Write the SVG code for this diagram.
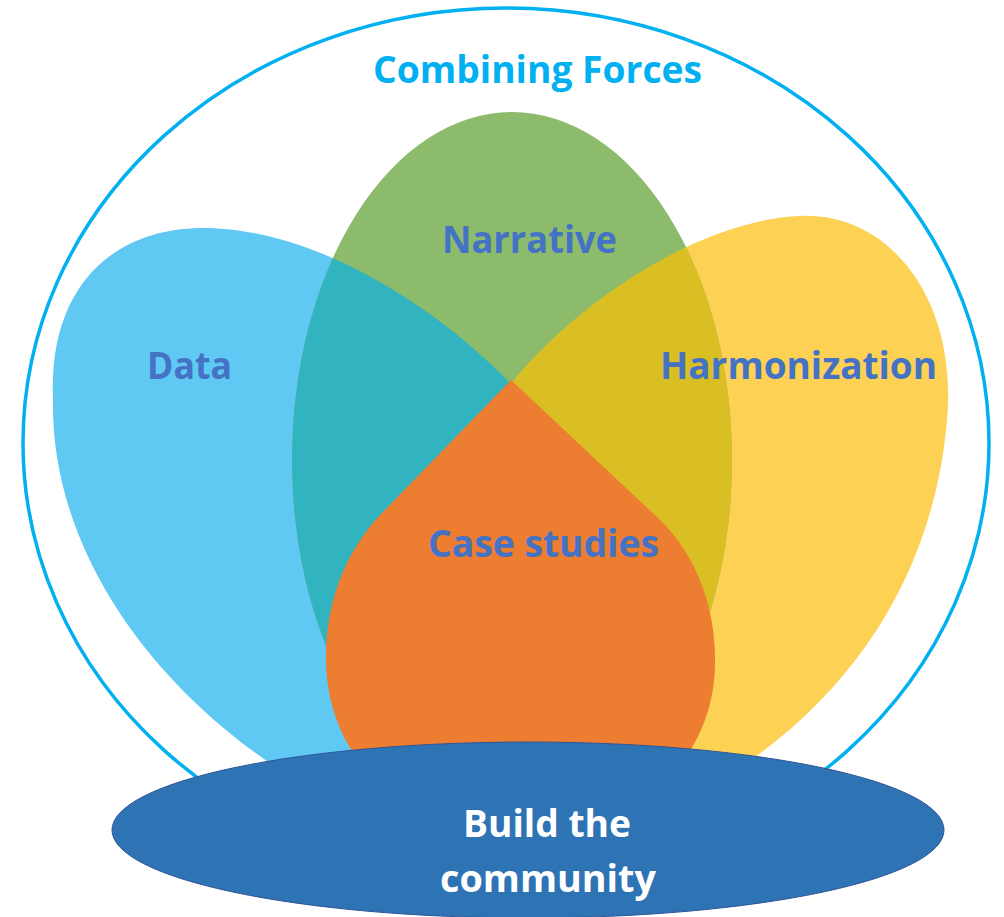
<svg xmlns="http://www.w3.org/2000/svg" width="1004" height="917" viewBox="0 0 1004 917">
<style>
.lbl{font-family:"Open Sans","Noto Sans","Liberation Sans",sans-serif;font-weight:700;font-size:37px;text-anchor:middle;fill:#4472C4}
.title{fill:#00B0F0}
.white{fill:#FFFFFF}
</style>
<defs>
<path id="dataShape" d="M400,830 C230,770 50,600 53,400 C48,280 120,225 210,228 C330,232 450,320 512,385 C530,420 480,700 400,830 Z"/>
<path id="harmShape" d="M620,830 C800,760 930,620 947,420 C958,300 890,212 800,216 C700,220 580,300 512,382 C500,420 540,700 620,830 Z"/>
<ellipse id="narrShape" cx="512" cy="460" rx="220" ry="348"/>
<clipPath id="clipData"><use href="#dataShape"/></clipPath>
<clipPath id="clipHarm"><use href="#harmShape"/></clipPath>
</defs>
<rect width="1004" height="917" fill="#FFFFFF"/>
<g id="outer">
<ellipse cx="506" cy="443" rx="483" ry="435" fill="none" stroke="#00B0F0" stroke-width="3.5"/>
<text class="lbl title" x="537.5" y="83" textLength="329" lengthAdjust="spacingAndGlyphs">Combining Forces</text>
</g>
<g id="data">
<use href="#dataShape" fill="#5FC9F3"/>
</g>
<g id="harmonization">
<use href="#harmShape" fill="#FDD153"/>
</g>
<g id="narrative">
<use href="#narrShape" fill="#8DBB6C"/>
<use href="#narrShape" fill="#32B3C0" clip-path="url(#clipData)"/>
<use href="#narrShape" fill="#D9BF24" clip-path="url(#clipHarm)"/>
</g>
<g id="case-studies">
<path d="M511,380 L658,518 C698,556 716,610 715,665 C713,760 640,830 520,830 C400,830 330,760 326,665 C324,605 345,552 380,515 Z" fill="#ED7D31"/>
</g>
<g id="labels">
<text class="lbl" x="189.5" y="379" textLength="85" lengthAdjust="spacingAndGlyphs">Data</text>
<text class="lbl" x="529.5" y="253" textLength="175" lengthAdjust="spacingAndGlyphs">Narrative</text>
<text class="lbl" x="798.5" y="379" textLength="277" lengthAdjust="spacingAndGlyphs">Harmonization</text>
<text class="lbl" x="543.5" y="557" textLength="231" lengthAdjust="spacingAndGlyphs">Case studies</text>
</g>
<g id="community">
<ellipse cx="528" cy="830" rx="416" ry="88" fill="#2E73B4" stroke="#2F5597" stroke-width="1"/>
<text class="lbl white" x="547" y="837" textLength="168" lengthAdjust="spacingAndGlyphs">Build the</text>
<text class="lbl white" x="548" y="892" textLength="216" lengthAdjust="spacingAndGlyphs">community</text>
</g>
<g id="connectors"/>
</svg>
